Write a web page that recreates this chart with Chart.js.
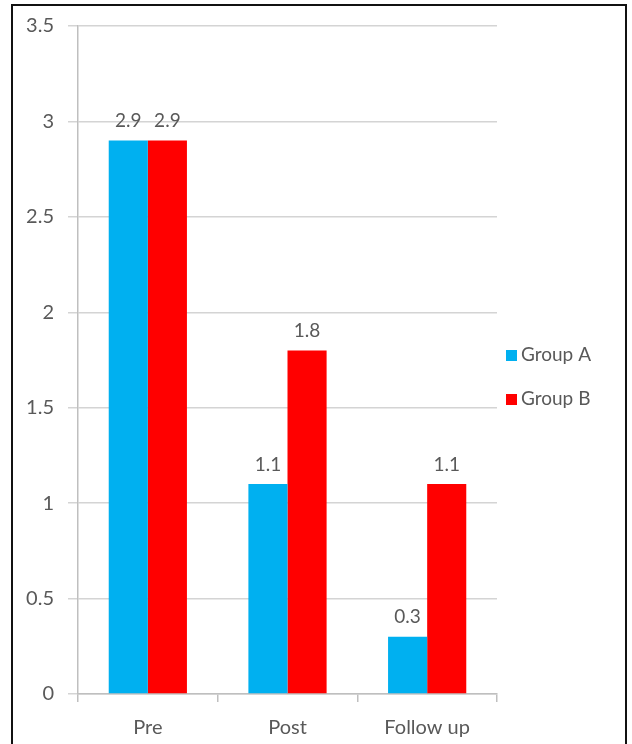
<!DOCTYPE html>
<html>
<head>
<meta charset="utf-8">
<script src="https://cdn.jsdelivr.net/npm/chart.js@4/dist/chart.umd.min.js"></script>
<style>
  body { margin: 0; background: #fff; }
  #frame { position: absolute; left: 11px; top: 4px; width: 612px; height: 800px; border: 2px solid #111; }
  #wrap { position: absolute; left: 0; top: 0; width: 632px; height: 744px; }
</style>
</head>
<body>
<div id="frame"></div>
<div id="wrap"><canvas id="barChartCanva" width="632" height="744"></canvas></div>
<script>
var categories = ['Pre', 'Post', 'Follow up'];
var groupA = [2.9, 1.1, 0.3];
var groupB = [2.9, 1.8, 1.1];
var seriesNames = ['Group A', 'Group B'];
var seriesColors = ['#00B0F0', '#FF0000'];
var yTicks = [0, 0.5, 1, 1.5, 2, 2.5, 3, 3.5];

var fontFamily = 'Lato, "Open Sans", sans-serif';
var textColor = '#595959';

var ctx = document.getElementById('barChartCanva').getContext('2d');

//Create data
var chartData = {
    labels: categories,
    datasets: [
        { label: seriesNames[0], data: groupA, backgroundColor: seriesColors[0] },
        { label: seriesNames[1], data: groupB, backgroundColor: seriesColors[1] }
    ]
};

// value labels above bars + legend on the right
var extras = {
    id: 'extras',
    afterDatasetsDraw: function (chart) {
        var c = chart.ctx;
        c.save();
        c.font = '19px ' + fontFamily;
        c.fillStyle = textColor;
        c.textAlign = 'center';
        c.textBaseline = 'bottom';
        chart.data.datasets.forEach(function (ds, i) {
            chart.getDatasetMeta(i).data.forEach(function (bar, j) {
                c.fillText(ds.data[j].toFixed(1), bar.x, bar.y - 10);
            });
        });
        // legend
        c.textAlign = 'left';
        c.textBaseline = 'middle';
        var mid = (chart.chartArea.top + chart.chartArea.bottom) / 2 + 17;
        chart.data.datasets.forEach(function (ds, i) {
            var y = mid - 22 + i * 44;
            c.fillStyle = ds.backgroundColor;
            c.fillRect(506, y - 5, 11, 11);
            c.fillStyle = textColor;
            c.fillText(ds.label, 521, y);
        });
        c.restore();
    }
};

// Create chart
var barChart = new Chart(ctx, {
    type: 'bar',
    data: chartData,
    plugins: [extras],
    options: {
        responsive: false,
        animation: false,
        layout: { padding: { top: 22, right: 135, left: 0, bottom: 0 } },
        datasets: { bar: { categoryPercentage: 0.56, barPercentage: 1 } },
        plugins: { legend: { display: false }, tooltip: { enabled: false } },
        scales: {
            x: {
                afterFit: function (s) { s.height = 50; },
                grid: { offset: true, drawOnChartArea: false, tickLength: 8, color: '#bfbfbf', lineWidth: 1.5 },
                border: { color: '#bfbfbf', width: 1.5 },
                ticks: { color: textColor, font: { family: fontFamily, size: 20 }, padding: 14 }
            },
            y: {
                min: 0,
                max: 3.5,
                afterFit: function (s) { s.width = 78; },
                afterBuildTicks: function (s) { s.ticks = yTicks.map(function (v) { return { value: v }; }); },
                grid: { color: '#d4d4d4', lineWidth: 1.5, tickLength: 10 },
                border: { color: '#bfbfbf', width: 1.5 },
                ticks: {
                    color: textColor,
                    font: { family: fontFamily, size: 20 },
                    padding: 14,
                    callback: function (v) { return String(v); }
                }
            }
        }
    }
});
</script>
</body>
</html>
